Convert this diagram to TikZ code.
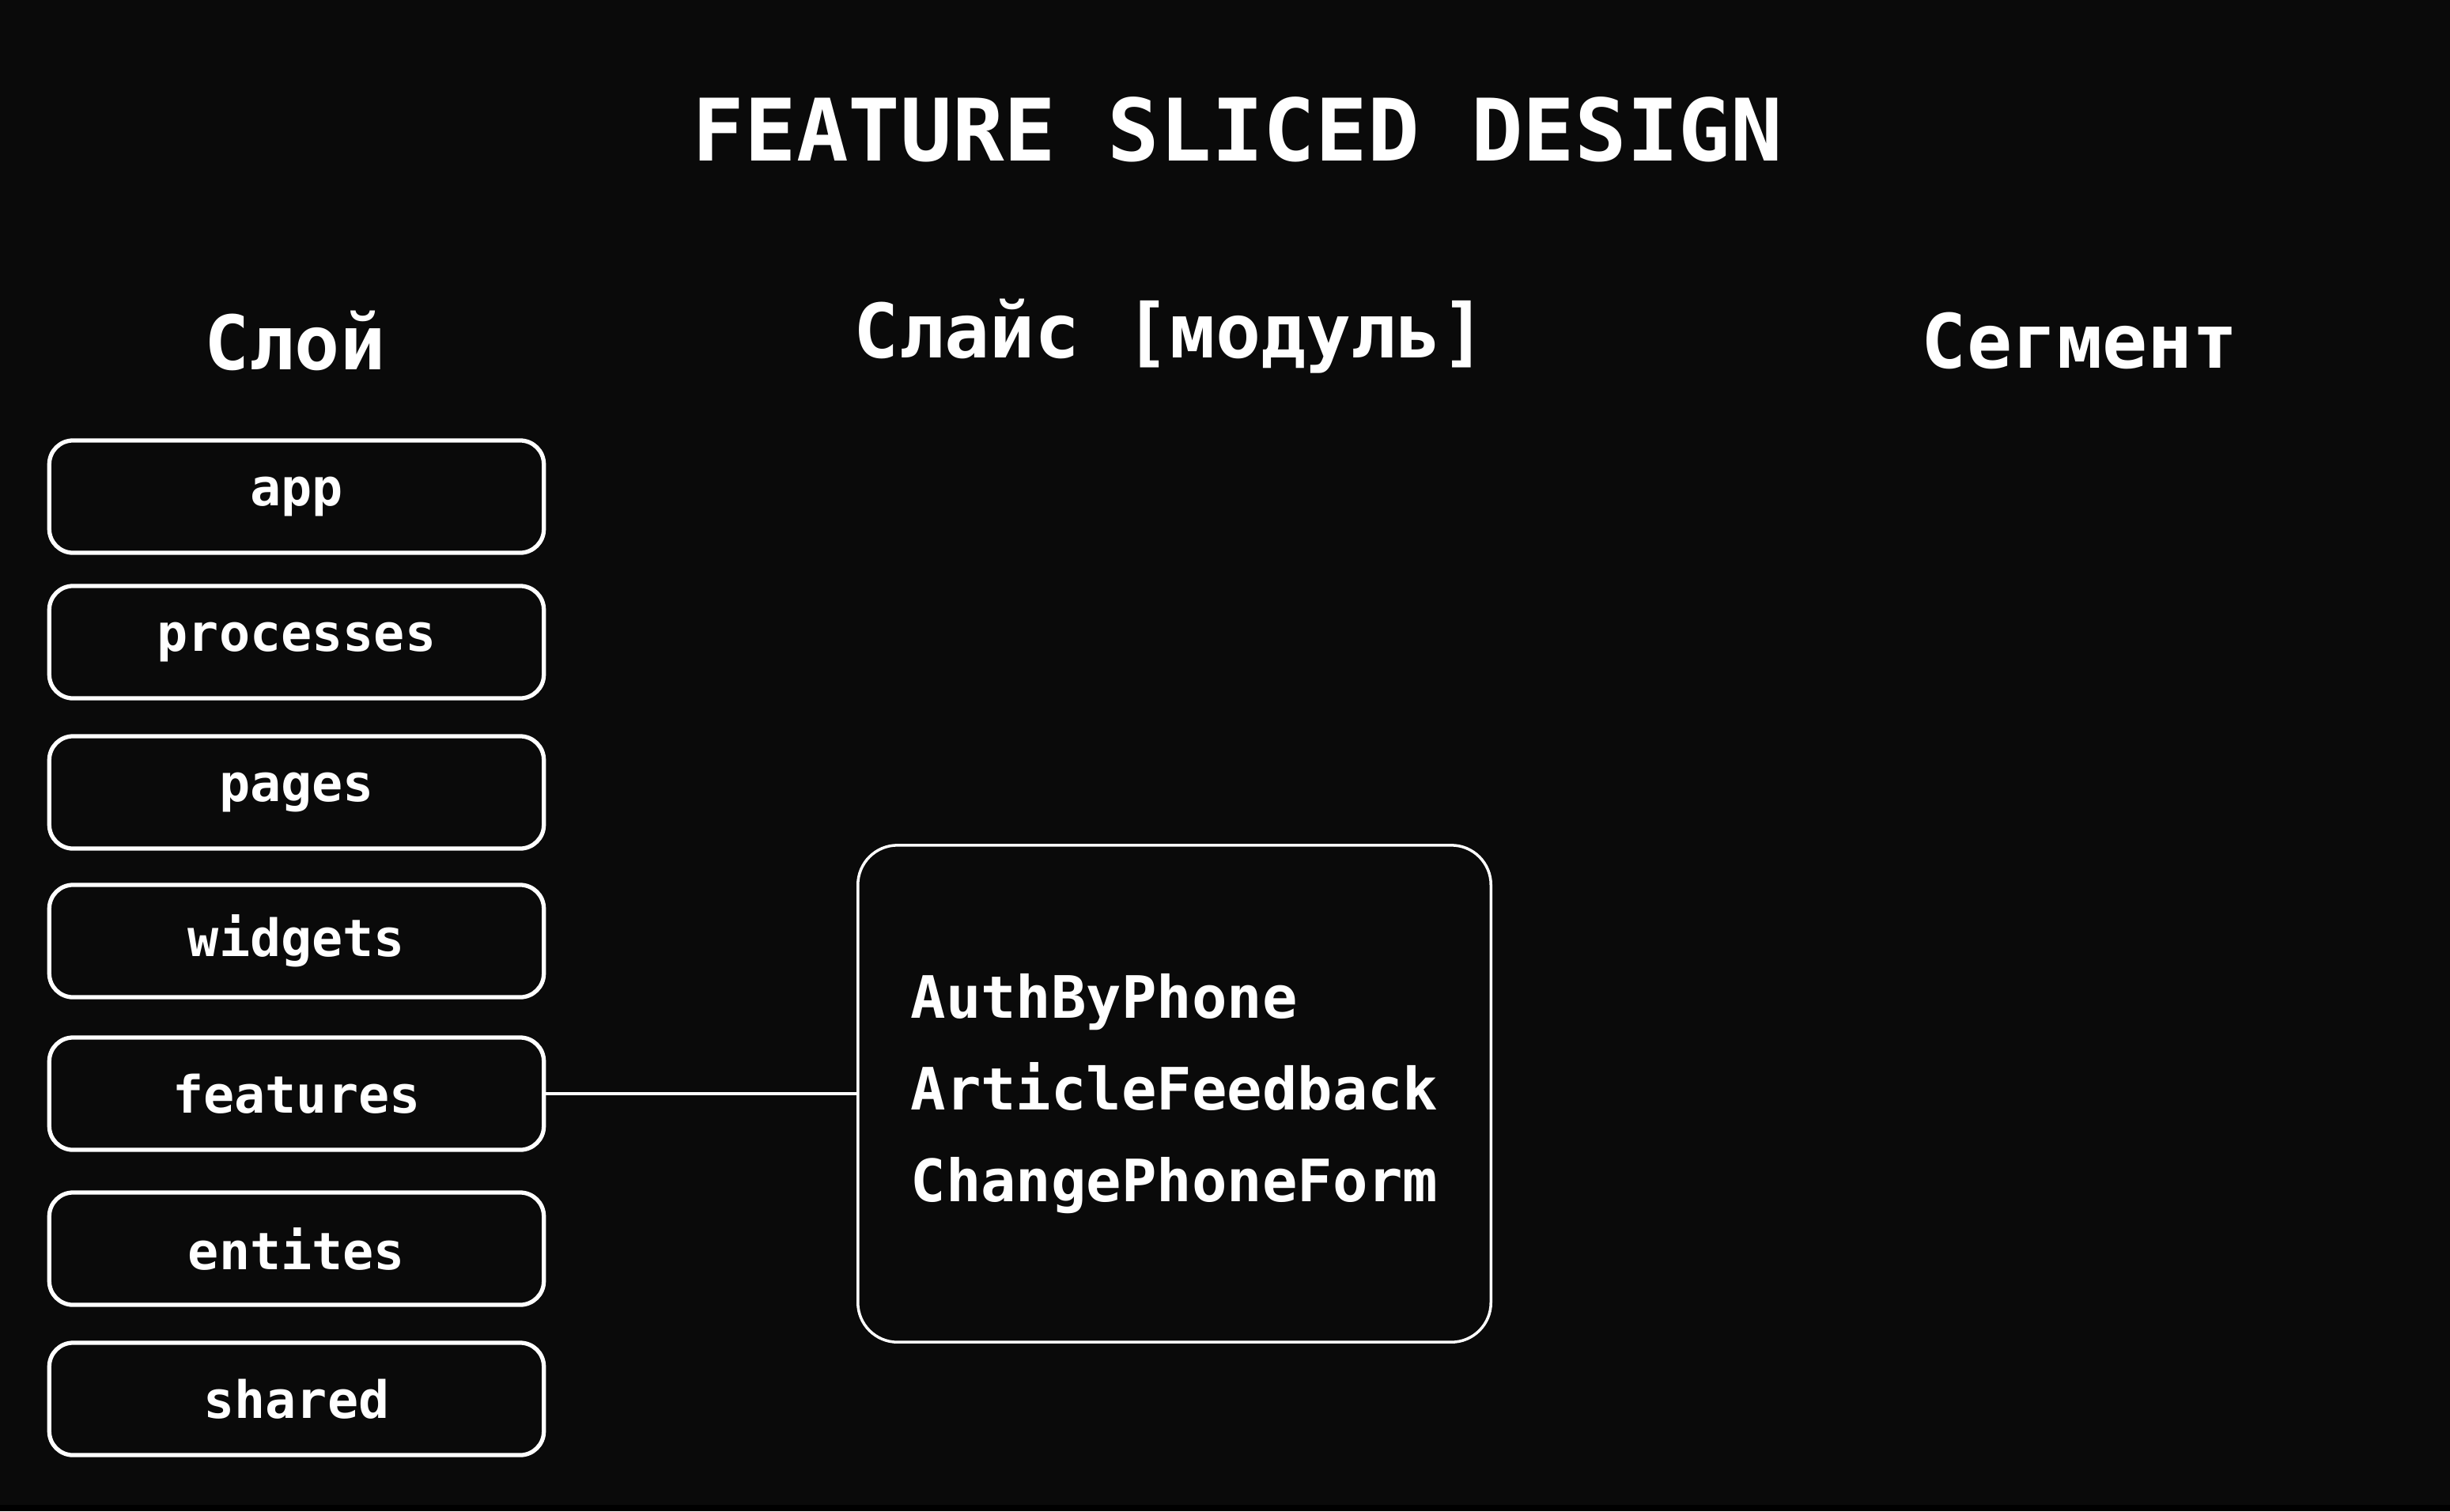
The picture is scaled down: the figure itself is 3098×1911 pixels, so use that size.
\documentclass[tikz,border=0pt]{standalone}
\usepackage{fontspec}
\setmainfont{DejaVu Sans Mono}
\usepackage{xcolor}
\usepackage{tikz}
\definecolor{bgdark}{RGB}{10,10,10}

\begin{document}
\begin{tikzpicture}[x=0.01cm,y=-0.01cm,
	layer/.style={draw=white, line width=1.5pt, rounded corners=0.3cm, fill=bgdark,
		minimum width=6.25cm, minimum height=1.42cm, inner sep=0pt,
		text=white, font=\fontsize{18.5}{22}\selectfont\bfseries},
	slice/.style={draw=white, line width=1pt, rounded corners=0.5cm, fill=bgdark,
		minimum width=8cm, minimum height=6.28cm, inner sep=0pt, align=left,
		text=white, font=\fontsize{21}{33}\selectfont\bfseries},
	head/.style={text=white, font=\fontsize{27}{30}\selectfont\bfseries},
	link/.style={draw=white, line width=1.2pt}]
	\fill[bgdark] (0,0) rectangle (3098,1911);
	\fill[black] (0,1903) rectangle (3098,1911);
	\useasboundingbox (0,0) rectangle (3098,1911);
	\node[text=white, font=\fontsize{31}{34}\selectfont\bfseries] (title) at (1565,164) {FEATURE SLICED DESIGN};
	\node[head] (hlayer) at (373,431) {Слой};
	\node[head] (hslice) at (1480,425) {Слайс [модуль]};
	\node[head] (hsegm)  at (2630,431) {Сегмент};
	\node[layer] (app)    at (375,628)  {app};
	\node[layer] (proc)   at (375,812)  {processes};
	\node[layer] (pages)  at (375,1002) {pages};
	\node[layer] (widg)   at (375,1190) {widgets};
	\node[layer] (feat)   at (375,1383) {features};
	\node[layer] (ent)    at (375,1579) {entites};
	\node[layer] (shared) at (375,1769) {shared};
	\node[slice] (feats) at (1485,1383) {AuthByPhone\\ArticleFeedback\\ChangePhoneForm};
	\draw[link] (feat.east) -- (feats.west);
\end{tikzpicture}
\end{document}
